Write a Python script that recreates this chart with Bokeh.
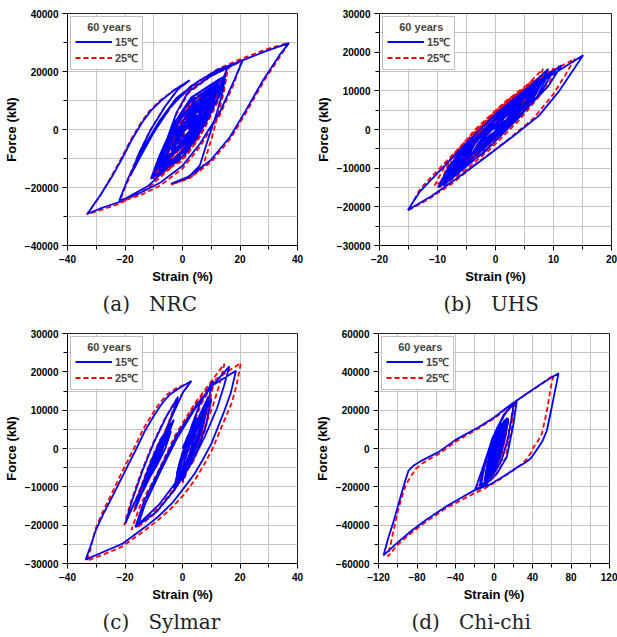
from bokeh.plotting import figure
from bokeh.models import Range1d, FixedTicker, Legend, LegendItem, Title
from bokeh.layouts import column, row
from bokeh.embed import file_html
from bokeh.resources import INLINE

# ---------------- data (strain %, force kN) ----------------
NRC_15C = [(0,0),(2,4000),(5,8000),(3,3000),(-1,-3000),(-4,-7000),(-2,-2000),(3,5500),(8,11500),
(6,6000),(1,-3000),(-6,-10500),(-4,-4000),(1,4000),(11,15000),(8,8500),(2,-2000),(-8,-13500),
(-6,-5000),(-2,6000),(2,13000),(10,18500),(21,24000),(18,17000),(13,6000),(6,-5000),(0,-12500),
(-8,-18500),(-15,-22000),(-22,-24500),(-19,-17000),(-14,-7000),(-8,3000),(-2,11000),(6,17000),
(16,22000),(13,15000),(8,5000),(2,-5000),(-5,-13000),(-12,-19500),(-22,-25000),(-29,-27400),
(-33,-29000),(-28.5,-22500),(-24.6,-16400),(-21,-10000),(-17.8,-3800),(-14,2500),(-11,6500),
(-7.4,10000),(-3,13500),(2.5,17000),(-1.5,14000),(-6,8000),(-11,0),(-15,-8000),(-18,-15500),
(-15,-10000),(-10,-1000),(-4,8000),(3,15000),(12,20500),(20,23500),(29,27000),(37,29800),
(34,26000),(31,21500),(28,17000),(22,6500),(16.5,-2600),(9.7,-10700),(4,-15000),(1.7,-16400),
(-4,-18700),(2,-16500),(6,-12500),(9,-3000),(12,6000),(14,13000),(15,19500),(13,12000),(8,2000),
(1,-7000),(-5,-13000),(-11,-17000),(-8,-9000),(-3,2000),(3,11000),(13,17500),(11,10000),(6,0),
(0,-8000),(-9,-14000),(-6,-6000),(0,5000),(11,15000),(9,8000),(3,-2000),(-7,-12000),(-4,-4000),
(2,6000),(10,13000),(8,6000),(2,-4000),(-6,-11000),(-3,-2000),(9,11000),(7,4000),(-3,-8000),
(-1,0),(7,8000),(5,2000),(-2,-5000),(1,1000),(5,5000),(2,0),(4,5000),(12,16500),(10,9500),
(5,-1000),(-2,-9500),(-8,-14500),(-6,-7000),(-2,3500),(4,11500),(14,18000),(12,10500),(7,500),
(1,-8500),(-6,-13500),(-10,-16000),(-7,-8000),(-3,1000),(2,9000),(12,16000),(10,8000),(5,-3000),
(-1,-10500),(-7,-14000),(-5,-6000),(-1,3000),(5,11000),(11,14500),(9,6500),(4,-3500),(-3,-10000),
(-5,-11000),(-2,-3500),(2,4000),(8,10500),(6,3000),(2,-3500),(0,-2000)]
NRC_25C = [(0,0),(2,3800),(5,7700),(3,2600),(-1,-3300),(-4,-7300),(-2,-2300),(3,5000),(8,11000),
(6,5500),(1,-3500),(-6,-11000),(-4,-4500),(1,3500),(11,14500),(8,8000),(2,-2500),(-8,-14000),
(-6,-5500),(-2,5500),(2,12500),(10,18500),(20.5,23500),(18,16000),(13,5000),(6,-6000),(0,-13500),
(-8,-19500),(-15,-22800),(-22,-25000),(-19,-17800),(-14,-7800),(-8,2200),(-2,10300),(6,16500),
(16.5,22000),(13.5,14500),(8.5,4500),(2.5,-5600),(-4.5,-13600),(-12,-20300),(-22,-25600),
(-29,-28000),(-33.3,-29300),(-29,-23500),(-25.2,-17000),(-21.6,-10500),(-18.4,-4300),
(-14.6,2100),(-11.6,6300),(-8,9800),(-3.4,13300),(2.3,16800),(-1.8,13600),(-6.3,7600),
(-11.3,-400),(-15.3,-8500),(-18.5,-16000),(-15.4,-10600),(-10.4,-1600),(-4.4,7500),(2.6,14600),
(12,20700),(20,24200),(29,27600),(37,30000),(34.5,26000),(31.5,21500),(28.5,17000),(22.5,6500),
(17,-2700),(10.2,-11000),(4.4,-15400),(2,-16800),(-4,-19000),(2.5,-16800),(7,-13000),(10,-3500),
(12.5,5500),(14.3,12500),(15.5,19200),(12.5,12500),(6.5,2500),(0.5,-7500),(-4.5,-13500),
(-10.5,-17500),(-7.5,-9500),(-2.5,1500),(3.5,10500),(13.5,16800),(10.5,9500),(4.5,-500),
(-1.5,-8500),(-8.5,-14500),(-5.5,-6500),(0.5,4500),(11.5,14800),(8.5,7500),(2.5,-2500),
(-6.5,-12500),(-3.5,-4500),(2.5,5500),(10.5,12800),(7.5,5500),(1.5,-4500),(-5.5,-11500),
(-2.5,-2500),(9.5,10800),(6.5,3500),(-3.5,-8500),(-0.5,-500),(7.5,7800),(4.5,1500),(-1.5,-5500),
(1.5,500),(5.5,4800),(2.5,-500),(4.5,4500),(12.5,16000),(10.5,9000),(5.5,-1500),(-1.5,-10000),
(-7.5,-15000),(-5.5,-7500),(-1.5,3000),(4.5,11000),(14.5,17600),(12.5,10000),(7.5,0),(1.5,-9000),
(-5.5,-14000),(-9.5,-16500),(-6.5,-8500),(-2.5,500),(2.5,8500),(12.5,15600),(10.5,7500),
(5.5,-3500),(-0.5,-11000),(-6.5,-14500),(-4.5,-6500),(-0.5,2500),(5.5,10500),(11.5,14000),
(9.5,6000),(4.5,-4000),(-2.5,-10500),(-4.5,-11500),(-1.5,-4000),(2.5,3500),(8.5,10000),
(6.5,2500),(2.5,-4000),(0.5,-2500)]

UHS_15C = [(0,0),(1.5,3000),(3,5000),(1.5,1500),(-1,-2500),(-3,-4500),(-1.5,-1000),(1,3000),
(5,8500),(3.5,4000),(0,-1500),(-5,-7500),(-3.5,-3500),(0,2500),(7,11500),(5.5,6500),(1,0),
(-7,-10500),(-5.5,-5500),(-1,1500),(4,8500),(9.1,15700),(7,10000),(3,4000),(-2,-3500),(-9,-14000),
(-7.5,-8500),(-3,-1500),(3,7000),(11.4,16600),(9,11000),(4,3500),(-2,-5000),(-6,-10000),
(-9.9,-15000),(-8,-9500),(-4,-3000),(2,5500),(8,12500),(15.1,19200),(13,14500),(11,10000),
(7.5,3600),(3,-1800),(-2,-7500),(-7,-13000),(-11,-17200),(-15.1,-20800),(-13,-16000),
(-10,-11300),(-5,-3500),(0,4000),(5,10000),(10,15300),(8,10000),(4,3000),(-1,-4500),(-5,-9500),
(-9,-14500),(-7,-8500),(-3,-1500),(2,5500),(8.5,13500),(6.5,8000),(2,1500),(-3,-5000),(-8,-12000),
(-6,-6500),(-1,1000),(7,11500),(5,6000),(0,-1000),(-6,-9000),(-4,-4000),(1,3000),(6,9500),
(4,4500),(-1,-2500),(-5,-7000),(-3,-2500),(4,6500),(2,2000),(-3,-4000),(0,1000),(2,2500),(0,0),
(3,6000),(8,13000),(6,7500),(2,1000),(-3,-6000),(-8,-13000),(-6,-7000),(-2,0),(3,7500),(9,14000),
(7,8000),(3,1500),(-2,-6000),(-9,-13500),(-7,-7500),(-3,-500),(2,6500),(7,12500),(5,6500),(1,0),
(-4,-7500),(-7,-11000),(-5,-5500),(-1,1500),(5,9500),(3,3500),(-2,-4000),(-4,-6000),(-2,-1500),
(1,1500)]
UHS_25C = [(0,0),(1.5,3200),(3,5200),(1.5,1300),(-1,-2800),(-3,-4800),(-1.5,-800),(1,3400),
(5,8800),(3.5,3700),(0,-1900),(-5,-7800),(-3.5,-3100),(0,3000),(7,11800),(5.5,6100),(1,-500),
(-7,-10800),(-5.5,-5000),(-1,2200),(4,9200),(8.2,15700),(6.5,9500),(2.5,3300),(-2.5,-4200),
(-9.5,-14300),(-8,-8000),(-3.5,-500),(2.5,7800),(11,16500),(8.5,10300),(3.5,2700),(-2.5,-5800),
(-6.5,-11000),(-10.5,-14500),(-8.5,-8800),(-4.5,-2000),(1.5,6300),(7.5,13300),(13.7,18300),
(12,14000),(10,9200),(6.5,2800),(2,-2800),(-3,-8500),(-7.5,-14000),(-11.5,-18000),(-15,-20900),
(-13,-15400),(-10,-10600),(-5,-2800),(0,4800),(5,10700),(10,15800),(8,9400),(4,2300),(-1,-5200),
(-5,-10300),(-9.5,-15000),(-7.5,-8000),(-3.5,-800),(1.5,6200),(8,14000),(6,7400),(1.5,800),
(-3.5,-5700),(-8.5,-12500),(-6.5,-6000),(-1.5,1600),(6.5,12000),(4.5,5400),(-0.5,-1600),
(-6.5,-9500),(-4.5,-3500),(0.5,3600),(5.5,10000),(3.5,4000),(-1.5,-3000),(-5.5,-7500),
(-3.5,-2000),(3.5,7000),(1.5,1500),(-3.5,-4500),(-0.5,1300),(1.5,2300),(0,0),(2.5,6200),
(7.5,13300),(5.5,7200),(1.5,500),(-3.5,-6400),(-8.5,-13300),(-6.5,-6600),(-2.5,500),(2.5,8000),
(8.5,14300),(6.5,7600),(2.5,1000),(-2.5,-6500),(-9.5,-13800),(-7.5,-7000),(-3.5,0),(1.5,7000),
(6.5,12800),(4.5,6000),(0.5,-500),(-4.5,-8000),(-7.5,-11300),(-5.5,-5000),(-1.5,2000),(4.5,10000),
(2.5,3000),(-2.5,-4500),(-4.5,-6300),(-2.5,-1000),(0.5,1000)]

SYLMAR_15C = [(0,0),(2,3500),(5,8000),(3,2500),(0,-3000),(-2,-6500),(0,-1000),(3,4500),(8,11000),
(6,4500),(3,-1500),(-1,-8000),(1,-2500),(4,4000),(9,12500),(7,5500),(4,-1000),(0,-8500),(2,-2500),
(5,5000),(10,13000),(8,5500),(4,-2500),(-3,-10500),(-1,-4000),(3,4000),(9,13500),(7,6000),
(3,-2000),(-2,-9500),(0,-3000),(4,4500),(8,11500),(6,4000),(2,-3500),(-1,-7500),
(-1,-3500),(3,5500),(6,11500),(10.6,17700),
(8.5,11000),(4.5,2000),(-1,-7500),(-8,-14500),(-16.4,-20500),(-13.5,-14000),(-8,-5500),(-2,3500),
(5,11500),(10,16000),(16.3,21400),(14.5,16500),(12,10500),(8,3500),(3,-4000),(-3,-11000),
(-9,-16500),(-15.5,-20000),(-13,-14500),(-8,-6500),(-2,2500),(4,10000),(10.5,16500),(18.6,20300),
(16.8,14500),(14.6,9900),(12.3,5500),(10,1200),(7,-3000),(4.2,-6600),(0,-10800),(-3.8,-14400),
(-8.5,-17800),(-13,-20500),(-21,-24900),(-27,-26800),(-33.7,-29000),(-32,-25500),(-30.2,-21400),
(-27.5,-17000),(-24.5,-12700),(-21.5,-8200),(-18.7,-4000),(-16,0),(-13,4700),(-10,8500),
(-7.2,11700),(-4.5,14000),(-1.5,15600),(3.1,17600),(0.2,14700),(-3,9500),(-7,2500),(-11,-4500),
(-15,-11500),(-17.5,-15500),(-19.9,-19600),(-17.5,-13500),(-14,-6000),(-10,1500),(-5.5,8500),
(-1.5,13500),(-3.5,9000),(-6.5,3000),(-10,-4000),(-13.5,-10500),(-16.5,-16000),(-14.5,-10500),
(-11,-3500),(-7.5,2500),(-3,7500),(-5,3500),(-8,-2000),(-11,-7000),(-14,-11500),(-12,-6500),
(-8.5,0),(-4.5,5500),(-6.5,1500),(-9.5,-3500),(-12.5,-8500),(-10.5,-4000),(-7,1500),(-4,4500),
(-6,0),(-9,-4500),(-11,-7000),(-9,-2500),(-6.5,1500),(-8,-1000),(-9,-3000),(-8,-2000)]
SYLMAR_25C = [(0,0),(2,3300),(5,7600),(3,2200),(0,-3300),(-2,-6800),(0,-1300),(3,4000),(8,10600),
(6,4000),(3,-2000),(-1,-8400),(1,-3000),(4,3500),(9,12000),(7,5000),(4,-1500),(0,-9000),(2,-3000),
(5,4500),(10,12600),(8,5000),(4,-3000),(-3,-11000),(-1,-4500),(3,3500),(9,13000),(7,5500),
(3,-2500),(-2,-10000),(0,-3500),(4,4000),(8,11000),(6,3500),(2,-4000),(-1,-8000),
(-1,-4000),(3,5000),(6.5,11500),(11,17500),
(9,10500),(5,1500),(-0.5,-8000),(-8,-15300),(-17.8,-21200),(-14.5,-14500),(-8.5,-6000),
(-2.5,3500),(4.5,12000),(9.5,17000),(14.6,22100),(13,17000),(10.5,11000),(7,4000),(2,-3500),
(-3.5,-11500),(-9.5,-17000),(-16,-20800),(-13.5,-15000),(-8.5,-7000),(-2.5,2500),(3.5,10500),
(10.5,17500),(20.3,22300),(18.8,16500),(17.2,12000),(15.2,8500),(12.8,4200),(10.5,0),(7.5,-4200),
(4.5,-8000),(0.5,-12000),(-3.5,-15300),(-8.5,-18700),(-13,-21300),(-21,-25600),(-27,-27500),
(-33.3,-29300),(-31.8,-25800),(-30.4,-21200),(-27.8,-16600),(-24.9,-12200),(-22,-7600),
(-19.2,-3400),(-16.5,600),(-13.5,5300),(-10.5,9000),(-7.7,12100),(-5,14300),(-1.8,15900),
(2.8,17300),(-0.2,14200),(-3.5,9000),(-7.5,2000),(-11.5,-5000),(-15.5,-12000),(-18,-16200),
(-20.3,-20000),(-18,-14000),(-14.5,-6500),(-10.5,1000),(-6,8000),(-2,13000),(-4,8500),(-7,2500),
(-10.5,-4500),(-14,-11000),(-17,-16500),(-15,-11000),(-11.5,-4000),(-8,2000),(-3.5,7000),
(-5.5,3000),(-8.5,-2500),(-11.5,-7500),(-14.5,-12000),(-12.5,-7000),(-9,-500),(-5,5000),(-7,1000),
(-10,-4000),(-13,-9000),(-11,-4500),(-7.5,1000),(-4.5,4000),(-6.5,-500),(-9.5,-5000),
(-11.5,-7500),(-9.5,-3000),(-7,1000),(-8.5,-1500),(-9.5,-3500),(-8.5,-2500)]

CHICHI_15C = [(0,0),(3,4000),(6,8500),(4,2500),(0,-4000),(-3,-8000),(-1,-2500),(3,5000),(9,12000),
(7,4500),(2,-5000),(-6,-11500),(-3,-4500),(3,5500),(11,15000),(8.5,6000),(3,-5000),(-3,-11500),
(-9,-15000),(-6,-7000),(0,3500),(7,12500),(15,15500),(12,7000),(7,-3000),(0,-12000),(-8,-17500),
(-14,-20000),(-10,-9000),(-2,5000),(10,17500),(23.7,25000),(20.3,12900),(13.3,-4500),(3,-13200),
(-8,-18500),(-19.6,-21600),(-16.5,-17000),(-12.7,-11500),(-7,-3000),(-2.3,4200),(4,11500),
(11.6,18100),(17,22000),(23.7,25000),(35,29000),(50,34000),(67,39300),(65,34000),(62.5,28000),
(60,21500),(57.5,15500),(54.9,9400),(50.5,4000),(46.2,700),(42,-2500),(37.6,-5400),(32,-7600),
(25.5,-9400),(10,-14500),(-5,-19000),(-19.6,-21600),(-35,-26000),(-50.8,-30600),(-70,-37000),
(-85.4,-42800),(-100,-49000),(-114.8,-55800),(-110,-47000),(-104,-37500),(-99.2,-28900),
(-95,-21500),(-92,-16500),(-88.8,-11500),(-83,-8700),(-75,-6300),(-66,-4000),(-57.7,-1900),
(-40,4500),(-16.1,11100),(0,16200),(12,20900),(21,24100),(18,15000),(14,4000),(8,-6000),
(0,-13000),(-8,-17000),(-15,-19500),(-11,-11000),(-5,0),(2,9500),(13,15500),(10,6500),(5,-3500),
(-1,-11000),(-8,-15500),(-5,-7000),(0,2000),(5,9000),(11,14500),(8,5000),(3,-5000),(-4,-12500),
(-1,-5000),(3,3500),(9,12000),(6,3000),(1,-6000),(-4,-10000),(-1,-2500),(3,4000),(7,8500),(5,2500),
(1,-3500),(-1,-5500),(1,-1000),(4,3000),(2,0),(5,6000),(12,15000),(9,4000),(4,-6000),(-3,-13000),
(-10,-17000),(-7,-8000),(-2,2500),(5,11000),(14,16000),(11,5000),(6,-5000),(-1,-12500),
(-6,-15000),(-3,-6000),(2,4000),(8,12000),(6,2000),(1,-7000),(-2,-8000),(1,-1000)]
CHICHI_25C = [(0,0),(3,3800),(6,8200),(4,2200),(0,-4300),(-3,-8300),(-1,-2800),(3,4700),(9,11700),
(7,4200),(2,-5300),(-6,-11800),(-3,-4800),(3,5200),(11,14700),(8.5,5600),(3,-5300),(-3,-11800),
(-9,-15300),(-6,-7300),(0,3200),(7,12200),(15,15200),(12,6600),(7,-3400),(0,-12400),(-8,-17900),
(-14,-20400),(-10,-9400),(-2,4600),(10,17200),(22,24500),(19,12500),(12,-5000),(2,-13600),
(-8,-18900),(-19,-21900),(-16,-17400),(-12,-12000),(-6.5,-3500),(-2,3800),(4,11000),(11,17600),
(16,21500),(22,24500),(35,28800),(48,33200),(62,38400),(59.5,33000),(57.5,27500),(56,22500),
(53,15000),(49.7,7700),(45.5,3800),(41.4,1000),(38,-2500),(34,-5500),(28,-8500),(20,-11500),
(5,-16500),(-10,-21000),(-20,-23200),(-35,-27200),(-50.8,-31500),(-70,-38000),(-85.4,-43800),
(-100,-50200),(-110.3,-56300),(-107,-49000),(-104.4,-42800),(-100,-33000),(-95.8,-25400),
(-92,-19500),(-87.1,-15000),(-81,-10500),(-75,-8000),(-66,-5200),(-57.7,-3000),(-40,3500),
(-16.1,10500),(0,15600),(12,20300),(20.5,23600),(17.5,14500),(13.5,3500),(7.5,-6500),
(-0.5,-13500),(-8,-17500),(-14.5,-19800),(-10.5,-11400),(-4.5,-400),(2.5,9100),(13.5,15100),
(10.5,6100),(5.5,-3900),(-0.5,-11400),(-7.5,-15900),(-4.5,-7400),(0.5,1600),(5.5,8600),
(11.5,14100),(8.5,4600),(3.5,-5400),(-3.5,-12900),(-0.5,-5400),(3.5,3100),(9.5,11600),(6.5,2600),
(1.5,-6400),(-3.5,-10400),(-0.5,-2900),(3.5,3600),(7.5,8100),(5.5,2100),(1.5,-3900),(-0.5,-5900),
(1.5,-1400),(4.5,2600),(2.5,-400),(5.5,5600),(12.5,14600),(9.5,3600),(4.5,-6400),(-2.5,-13400),
(-9.5,-17400),(-6.5,-8400),(-1.5,2100),(5.5,10600),(14.5,15600),(11.5,4600),(6.5,-5400),
(-0.5,-12900),(-5.5,-15400),(-2.5,-6400),(2.5,3600),(8.5,11600),(6.5,1600),(1.5,-7400),
(-1.5,-8400),(1.5,-1400)]

CAPTIONS = ["(a)\u00a0\u00a0\u00a0NRC", "(b)\u00a0\u00a0\u00a0UHS", "(c)\u00a0\u00a0\u00a0Sylmar", "(d)\u00a0\u00a0\u00a0Chi-chi"]
LEGEND_TITLE = "60 years"
LABEL_15 = "15\u2103"
LABEL_25 = "25\u2103"

NRC_XMAJ, NRC_XMIN = [-40, -20, 0, 20, 40], [-30, -10, 10, 30]
NRC_YMAJ, NRC_YMIN = [-40000, -20000, 0, 20000, 40000], [-30000, -10000, 10000, 30000]
UHS_XMAJ, UHS_XMIN = [-20, -10, 0, 10, 20], [-15, -5, 5, 15]
UHS_YMAJ, UHS_YMIN = [-30000, -20000, -10000, 0, 10000, 20000, 30000], [-25000, -15000, -5000, 5000, 15000, 25000]
SYL_XMAJ, SYL_XMIN = [-40, -20, 0, 20, 40], [-30, -10, 10, 30]
SYL_YMAJ, SYL_YMIN = [-30000, -20000, -10000, 0, 10000, 20000, 30000], [-25000, -15000, -5000, 5000, 15000, 25000]
CHI_XMAJ, CHI_XMIN = [-120, -80, -40, 0, 40, 80, 120], [-100, -60, -20, 20, 60, 100]
CHI_YMAJ, CHI_YMIN = [-60000, -40000, -20000, 0, 20000, 40000, 60000], [-50000, -30000, -10000, 10000, 30000, 50000]

FONT = "Liberation Sans"


def panel(c15, c25, xr, yr, xmaj, xmin_, ymaj, ymin_, caption, cap_offset,
          width, height, bl, br, bt, bb):
    p = figure(width=width, height=height, x_range=Range1d(*xr), y_range=Range1d(*yr),
               output_backend="svg", toolbar_location=None,
               min_border_left=bl, min_border_right=br, min_border_top=bt, min_border_bottom=bb)
    p.background_fill_color = "white"
    p.border_fill_color = "white"
    p.outline_line_color = "#222222"
    p.outline_line_width = 1

    x25 = [c[0] for c in c25]
    y25 = [c[1] for c in c25]
    x15 = [c[0] for c in c15]
    y15 = [c[1] for c in c15]
    r25 = p.line(x25, y25, line_color="#ff0000", line_width=1.8, line_dash="5 3")
    r15 = p.line(x15, y15, line_color="#0000ff", line_width=1.8)

    for ax, maj, mn in ((p.xaxis[0], xmaj, xmin_), (p.yaxis[0], ymaj, ymin_)):
        ax.ticker = FixedTicker(ticks=maj, minor_ticks=mn)
        ax.major_label_text_font = FONT
        ax.major_label_text_font_style = "bold"
        ax.major_label_text_font_size = "10px"
        ax.major_label_text_color = "black"
        ax.axis_label_text_font = FONT
        ax.axis_label_text_font_style = "bold"
        ax.axis_label_text_font_size = "13px"
        ax.axis_label_text_color = "black"
        ax.major_tick_in = 0
        ax.major_tick_out = 5
        ax.minor_tick_in = 0
        ax.minor_tick_out = 4
        ax.axis_line_color = "black"
        ax.major_tick_line_color = "black"
        ax.minor_tick_line_color = "black"
        ax.major_label_standoff = 4
        ax.axis_label_standoff = 3
    p.xaxis.axis_label = "Strain (%)"
    p.yaxis.axis_label = "Force (kN)"

    p.xgrid.ticker = FixedTicker(ticks=sorted(xmaj + xmin_))
    p.ygrid.ticker = FixedTicker(ticks=sorted(ymaj + ymin_))
    p.xgrid.grid_line_color = "#c4c4c4"
    p.ygrid.grid_line_color = "#c4c4c4"
    p.xgrid.grid_line_width = 1
    p.ygrid.grid_line_width = 1

    legend = Legend(items=[LegendItem(label=LABEL_15, renderers=[r15]),
                           LegendItem(label=LABEL_25, renderers=[r25])],
                    location="top_left",
                    title="\u00a0\u00a0\u00a0\u00a0" + LEGEND_TITLE)
    legend.margin = 3
    legend.padding = 4
    legend.spacing = 1
    legend.title_standoff = 1
    legend.label_height = 13
    legend.glyph_height = 13
    legend.glyph_width = 37
    legend.label_standoff = 3
    legend.border_line_color = "#808080"
    legend.border_line_width = 1
    legend.background_fill_color = "white"
    legend.background_fill_alpha = 1
    legend.label_text_font = FONT
    legend.label_text_font_style = "bold"
    legend.label_text_font_size = "11px"
    legend.title_text_font = FONT
    legend.title_text_font_style = "bold"
    legend.title_text_font_size = "11px"
    p.add_layout(legend)

    cap = Title(text=caption, align="left", offset=cap_offset, text_font="DejaVu Serif",
                text_font_size="20px", text_font_style="normal", text_color="#222222", standoff=6)
    p.add_layout(cap, "below")
    return p


pa = panel(NRC_15C, NRC_25C, (-40, 40), (-40000, 40000), NRC_XMAJ, NRC_XMIN, NRC_YMAJ, NRC_YMIN,
           CAPTIONS[0], 35, 305, 328, 65, 8, 13, 83)
pb = panel(UHS_15C, UHS_25C, (-20, 20), (-30000, 30000), UHS_XMAJ, UHS_XMIN, UHS_YMAJ, UHS_YMIN,
           CAPTIONS[1], 64, 312, 328, 74, 6, 13, 83)
pc = panel(SYLMAR_15C, SYLMAR_25C, (-40, 40), (-30000, 30000), SYL_XMAJ, SYL_XMIN, SYL_YMAJ, SYL_YMIN,
           CAPTIONS[2], 35, 305, 309, 65, 8, 5, 74)
pd = panel(CHICHI_15C, CHICHI_25C, (-120, 120), (-60000, 60000), CHI_XMAJ, CHI_XMIN, CHI_YMAJ, CHI_YMIN,
           CAPTIONS[3], 33, 312, 309, 73, 8, 5, 74)

layout = column(row(pa, pb), row(pc, pd))
open("out.html", "w").write(file_html(layout, INLINE))
